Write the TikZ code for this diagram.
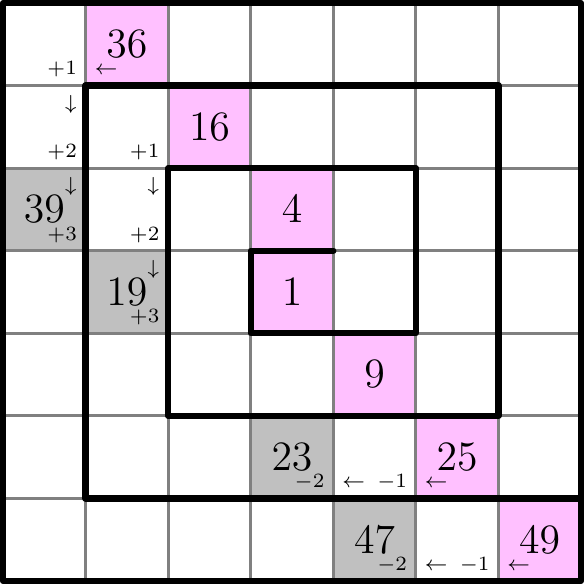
\documentclass[tikz,border=0pt]{standalone}
\usepackage{amsmath,amssymb,amsfonts}
\usepackage{tikz}
\definecolor{sqpink}{RGB}{255,192,255}
\definecolor{sqgray}{RGB}{192,192,192}

\begin{document}
\begin{tikzpicture}[x=1cm, y=-1cm,
    num/.style={inner sep=0pt, font=\Large},
    tag/.style={inner sep=0pt, font=\scriptsize},
    spiral/.style={line width=2.2pt, line cap=round, line join=round}]
        \useasboundingbox (-0.038,-0.038) rectangle (7.038,7.038);

        % squares on the diagonal and the shaded ones
        \foreach \c/\r/\n in {1/0/36, 2/1/16, 3/2/4, 3/3/1, 4/4/9, 5/5/25, 6/6/49}
            {
                \fill[sqpink] (\c,\r) rectangle ++(1,1);
                \node[num] (n\n) at (\c+0.5,\r+0.5) {$\n$};
            }
        \foreach \c/\r/\n in {0/2/39, 1/3/19, 3/5/23, 4/6/47}
            {
                \fill[sqgray] (\c,\r) rectangle ++(1,1);
                \node[num] (n\n) at (\c+0.5,\r+0.5) {$\n$};
            }

        \draw[gray, line width=1.1pt] (0,0) grid (7,7);

        % steps
        \foreach \c/\r/\t in {0/0/+1, 0/1/+2, 0/2/+3, 1/1/+1, 1/2/+2, 1/3/+3,
                              3/5/-2, 4/5/-1, 4/6/-2, 5/6/-1}
            \node[tag, anchor=base east] (st\c\r) at (\c+0.9,\r+0.87) {$\t$};
        \foreach \c/\r in {0/1, 0/2, 1/2, 1/3}
            \node[tag, anchor=north east] (dn\c\r) at (\c+0.9,\r+0.11) {$\downarrow$};
        \foreach \c/\r in {1/0, 4/5, 5/5, 5/6, 6/6}
            \node[tag, anchor=base west] (lt\c\r) at (\c+0.1,\r+0.87) {$\leftarrow$};

        \draw[spiral] (4,3) -- (3,3) -- (3,4) -- (5,4) -- (5,2) -- (2,2) -- (2,5)
            -- (6,5) -- (6,1) -- (1,1) -- (1,6) -- (7,6);
        \draw[spiral] (0,0) rectangle (7,7);
    \end{tikzpicture}
\end{document}
